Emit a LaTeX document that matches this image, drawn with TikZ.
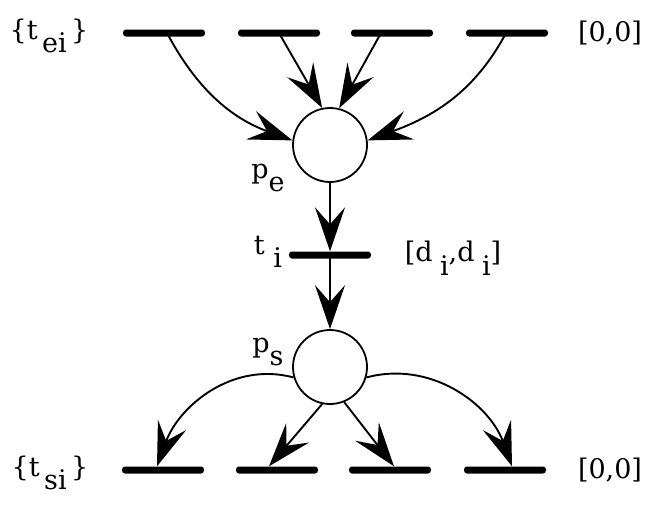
\documentclass[tikz,border=0pt]{standalone}
\usepackage{fontspec}
\setmainfont{DejaVu Serif}
\usetikzlibrary{arrows.meta}
\newcommand{\sbs}[1]{\raisebox{-0.5em}{#1}}
\tikzset{
  bar/.style={fill=black, rounded corners=3pt, inner sep=0pt, minimum width=82pt, minimum height=7pt},
  place/.style={circle, draw, line width=1.8pt, minimum size=74pt, inner sep=0pt},
  arr/.style={line width=1.9pt, -{Stealth[length=44pt, width=30pt, inset=17pt]}},
  lbl/.style={font=\fontsize{27}{27}\selectfont, inner sep=0pt}
}
\begin{document}
\begin{tikzpicture}[x=1pt, y=-1pt]
\useasboundingbox (0,0) rectangle (654,507);
% top transitions
\node[bar] (a1) at (164,33) {};
\node[bar] (a2) at (279,33) {};
\node[bar] (a3) at (392,33) {};
\node[bar] (a4) at (507,33) {};
% places
\node[place] (pe) at (330,145) {};
\node[bar] (ti) at (330,255) {};
\node[place] (ps) at (330,367) {};
% bottom transitions
\node[bar] (b1) at (163,470) {};
\node[bar] (b2) at (277,470) {};
\node[bar] (b3) at (390,470) {};
\node[bar] (b4) at (505,470) {};
% labels
\node[lbl] (lei) at (49,36) {\{t\,\sbs{ei}\,\}};
\node[lbl] (ltop) at (610,33) {[0,0]};
\node[lbl] (lpe) at (268,178) {p\sbs{e}};
\node[lbl] (lti) at (268,252) {t \sbs{i}};
\node[lbl] (ldi) at (453,258) {[d\;\sbs{i},d\;\sbs{i}]};
\node[lbl] (lps) at (268,352) {p\sbs{s}};
\node[lbl] (lsi) at (50,473) {\{t\,\sbs{si}\,\}};
\node[lbl] (lbot) at (610,470) {[0,0]};
% top arcs
\draw[arr] ([xshift=3pt]a1.center) to[out=-62, in=160] (pe.173);
\draw[arr] (a2.center) -- (pe.102);
\draw[arr] ([xshift=-11pt]a3.center) -- (pe.76);
\draw[arr] ([xshift=-1pt]a4.center) to[out=-118, in=20] (pe.7);
% middle
\draw[arr] (pe.south) -- (ti.north);
\draw[arr] (ti.center) -- (ps.north);
% bottom arcs
\draw[arr] (ps.196) to[out=165, in=70] ([xshift=-6pt]b1.north);
\draw[arr] (ps.258) -- ([xshift=-8pt]b2.north);
\draw[arr] (ps.292) -- ([xshift=4pt]b3.north);
\draw[arr] (ps.344) to[out=15, in=110] ([xshift=7pt]b4.north);
\end{tikzpicture}
\end{document}
